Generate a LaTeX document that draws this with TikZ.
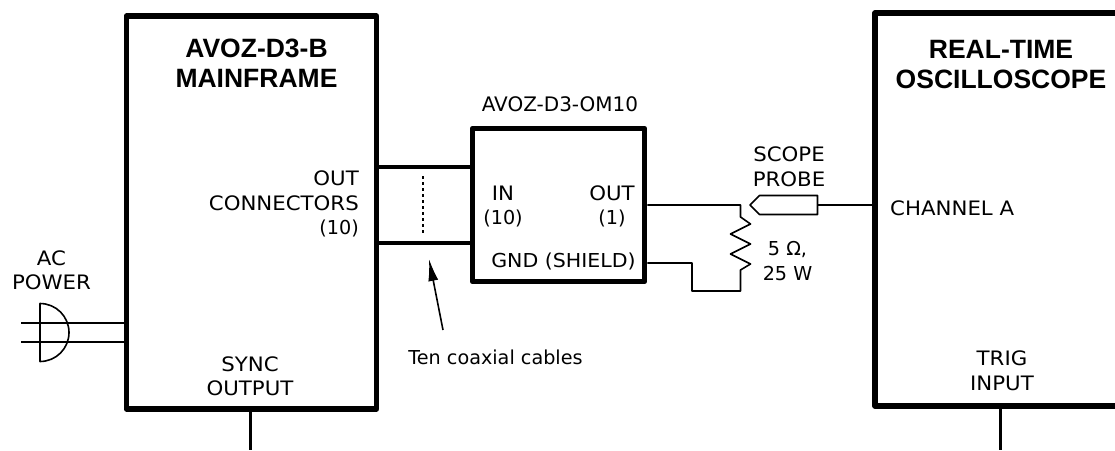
\documentclass[tikz,border=0pt]{standalone}
\usepackage{fontspec}
\setmainfont{DejaVu Sans}
\newfontfamily\headfont{Liberation Sans}
\newfontfamily\capfont[FakeStretch=1.07]{DejaVu Sans}
\usetikzlibrary{arrows.meta}
\tikzset{
    bigbox/.style={draw, line width=5.5pt, line join=round, inner sep=0pt},
    labeltext/.style={align=center, inner sep=0pt, font=\fontsize{19.2}{24.5}\selectfont},
    capstext/.style={labeltext, font=\capfont\fontsize{19.9}{24.5}\selectfont},
    boxtitle/.style={align=center, inner sep=0pt, font=\headfont\bfseries\fontsize{26.5}{30}\selectfont},
    wire/.style={line width=1.6pt, line join=round},
    cable/.style={line width=3.4pt},
}
\begin{document}
\begin{tikzpicture}[x=1pt, y=-1pt]
    \useasboundingbox (0,0) rectangle (1115,450);
    \node[bigbox, minimum width=250pt, minimum height=393pt] (main) at (251.5,212.5) {};
    \node[bigbox, minimum width=172pt, minimum height=153pt] (om) at (558.5,205) {};
    \node[bigbox, minimum width=250pt, minimum height=393pt] (scope) at (1000,209.5) {};
    % titles
    \node[boxtitle] (maintitle) at (256.5,63) {AVOZ-D3-B\\MAINFRAME};
    \node[boxtitle] (scopetitle) at (1001,65) {REAL-TIME\\OSCILLOSCOPE};
    \node[labeltext, font=\fontsize{20}{24.5}\selectfont] (omtitle) at (560,104) {AVOZ-D3-OM10};
    % labels
    \node[labeltext, align=right, anchor=east] (outconn) at (359,204) {{\capfont\fontsize{19.9}{24.5}\selectfont OUT}\\{\capfont\fontsize{19.9}{24.5}\selectfont CONNECTORS}\\(10)};
    \node[capstext] (acpower) at (51.5,270) {AC\\POWER};
    \node[capstext] (sync) at (250,376) {SYNC\\OUTPUT};
    \node[capstext] (trig) at (1002,370.5) {TRIG\\INPUT};
    \node[labeltext] (in) at (503,206.5) {{\capfont\fontsize{19.9}{24.5}\selectfont IN}\\(10)};
    \node[labeltext] (outone) at (612,206.5) {{\capfont\fontsize{19.9}{24.5}\selectfont OUT}\\(1)};
    \node[capstext, font=\capfont\fontsize{19.2}{24.5}\selectfont] (gnd) at (563.5,261) {GND (SHIELD)};
    \node[capstext] (probetext) at (789,167) {SCOPE\\PROBE};
    \node[capstext, anchor=west] (chan) at (890,208.5) {CHANNEL A};
    \node[labeltext] (ohm) at (787.5,261) {5 Ω,\\25 W};
    \node[labeltext] (coax) at (495.5,357) {Ten coaxial cables};
    % cables
    \coordinate (cu) at (376,167);
    \coordinate (cd) at (376,243);
    \draw[cable] (cu) -- (cu -| om.west);
    \draw[cable] (cd) -- (cd -| om.west);
    \coordinate (dashtop) at (423,176);
    \coordinate (dashend) at (423,234);
    \draw[wire, dashed] (dashtop) -- (dashend);
    \coordinate (arrowfrom) at (443,330);
    \coordinate (arrowto) at (429,259);
    \draw[wire, -{Latex[length=22pt,width=10pt]}] (arrowfrom) -- (arrowto);
    % resistor
    \coordinate (outwire) at (om.east |- 0,205);
    \coordinate (gndwire) at (om.east |- 0,263);
    \draw[wire] (outwire) -- (740.5,205) -- (740.5,217) -- (750.5,224) -- (730.5,234)
        -- (750.5,244) -- (730.5,254) -- (750.5,264) -- (740.5,270) -- (740.5,291) -- (692,291)
        -- (692,263) -- (gndwire);
    % probe
    \coordinate (probeback) at (817.5,205);
    \draw[wire] (817.5,195.5) -- (759.5,195.5) -- (750,205) -- (759.5,214.5) -- (817.5,214.5) -- cycle;
    \draw[wire] (probeback) -- (scope.west |- probeback);
    % ac plug
    \coordinate (acone) at (21,323);
    \coordinate (actwo) at (21,342);
    \draw[wire] (acone) -- (acone -| main.west);
    \draw[wire] (actwo) -- (actwo -| main.west);
    \coordinate (plug) at (40,303.5);
    \draw[wire] (plug) arc[start angle=90, end angle=-90, radius=29pt] -- cycle;
    % sync and trig
    \coordinate (syncend) at (250.5,450);
    \coordinate (trigend) at (1000,450);
    \draw[cable, line width=3pt] (syncend |- main.south) -- (syncend);
    \draw[cable, line width=3pt] (trigend |- scope.south) -- (trigend);
\end{tikzpicture}
\end{document}
